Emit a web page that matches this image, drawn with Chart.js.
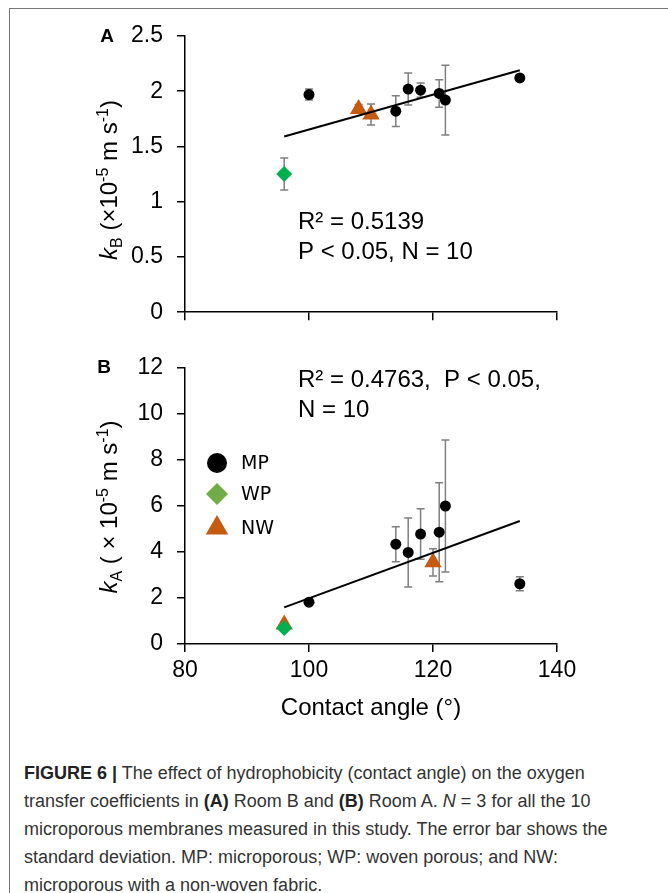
<!DOCTYPE html>
<html>
<head>
<meta charset="utf-8">
<script src="https://cdn.jsdelivr.net/npm/chart.js@4.4.0/dist/chart.umd.min.js"></script>
<style>
  body { margin: 0; background: #fff; }
  #fig { position: relative; width: 668px; height: 893px; overflow: hidden; font-family: "Liberation Sans", Arial, sans-serif; }
  #frame { position: absolute; left: 9px; top: 8px; width: 700px; height: 900px; border-left: 1px solid #777; border-top: 1px solid #777; }
  canvas { position: absolute; left: 0; }
  #chartA { top: 0; }
  #chartB { top: 340px; }
  .ytitle { position: absolute; white-space: nowrap; font-size: 24px; color: #000; line-height: 1; transform: translate(-50%, -50%) rotate(-90deg); }
  .ytitle sub, .ytitle sup { font-size: 16px; }
  .panel { position: absolute; font-weight: bold; font-size: 19px; color: #000; transform: translate(-50%, -50%); }
  #caption { position: absolute; left: 24px; top: 759px; font-size: 18px; line-height: 28px; color: #333; white-space: nowrap; }
  #caption b { color: #222; }
</style>
</head>
<body>
<div id="fig">
  <div id="frame"></div>
  <canvas id="chartA" width="668" height="340"></canvas>
  <canvas id="chartB" width="668" height="384"></canvas>
  <div class="panel" style="left:107px; top:36px;">A</div>
  <div class="panel" style="left:104px; top:367px;">B</div>
  <div class="ytitle" style="left:110px; top:180px;"><i>k</i><sub>B</sub> (×10<sup>-5</sup> m s<sup>-1</sup>)</div>
  <div class="ytitle" style="left:110px; top:507px;"><i>k</i><sub>A</sub> ( × 10<sup>-5</sup> m s<sup>-1</sup>)</div>
  <div id="caption">
    <b>FIGURE 6 |</b> The effect of hydrophobicity (contact angle) on the oxygen<br>
    transfer coefficients in <b>(A)</b> Room B and <b>(B)</b> Room A. <i>N</i> = 3 for all the 10<br>
    microporous membranes measured in this study. The error bar shows the<br>
    standard deviation. MP: microporous; WP: woven porous; and NW:<br>
    microporous with a non-woven fabric.
  </div>
</div>
<script>
// Дані панелі A (кімната B), kB ×10^-5 м/с
const mpAngleA = [100, 114, 116, 118, 121, 122, 134];
const mpValueA = [1.97, 1.82, 2.02, 2.01, 1.98, 1.92, 2.12];
const mpErrA   = [0.05, 0.14, 0.145, 0.065, 0.125, 0.315, 0.03];
const wpAngleA = [96];
const wpValueA = [1.25];
const wpErrA   = [0.145];
const nwAngleA = [108, 110];
const nwValueA = [1.84, 1.79];
const nwErrA   = [0.04, 0.095];
const trendAngleA = [96, 134];
const trendValueA = [1.59, 2.19];
const notesA = ['R² = 0.5139', 'P < 0.05, N = 10'];

// Дані панелі B (кімната A), kA ×10^-5 м/с
const mpAngleB = [100, 114, 116, 118, 121, 122, 134];
const mpValueB = [1.82, 4.34, 3.98, 4.78, 4.86, 6.0, 2.62];
const mpErrB   = [0.13, 0.76, 1.5, 1.1, 2.15, 2.87, 0.3];
const wpAngleB = [96];
const wpValueB = [0.7];
const wpErrB   = [0];
const nwAngleB = [96, 120];
const nwValueB = [0.85, 3.55];
const nwErrB   = [0.1, 0.59];
const trendAngleB = [96, 134];
const trendValueB = [1.59, 5.35];
const notesB = ['R² = 0.4763,  P < 0.05,', 'N = 10'];

// Легенда і осі
const legendLabels = ['MP', 'WP', 'NW'];
const xTicks = [80, 100, 120, 140];
const yTicksA = [0, 0.5, 1, 1.5, 2, 2.5];
const yTicksB = [0, 2, 4, 6, 8, 10, 12];

Chart.defaults.font.family = '"Liberation Sans", Arial, sans-serif';
Chart.defaults.color = '#000';

function pts(xs, ys) {
  return xs.map((x, i) => ({ x: x, y: ys[i] }));
}

// (1) Планки похибок малюємо під маркерами
const errorBars = {
  id: 'errorBars',
  beforeDatasetsDraw(chart) {
    const ctx = chart.ctx, xs = chart.scales.x, ys = chart.scales.y;
    ctx.save();
    ctx.strokeStyle = '#7f7f7f';
    ctx.lineWidth = 1.5;
    chart.data.datasets.forEach(ds => {
      if (!ds.errors) return;
      ds.data.forEach((p, i) => {
        const e = ds.errors[i];
        if (!e) return;
        const x = xs.getPixelForValue(p.x);
        const y1 = ys.getPixelForValue(p.y - e);
        const y2 = ys.getPixelForValue(p.y + e);
        ctx.beginPath();
        ctx.moveTo(x, y1); ctx.lineTo(x, y2);
        ctx.moveTo(x - 4, y1); ctx.lineTo(x + 4, y1);
        ctx.moveTo(x - 4, y2); ctx.lineTo(x + 4, y2);
        ctx.stroke();
      });
    });
    ctx.restore();
  }
};

// (2) Текст з R² всередині графіка
const notes = {
  id: 'notes',
  afterDraw(chart, args, opts) {
    if (!opts.lines) return;
    const ctx = chart.ctx, a = chart.chartArea;
    ctx.save();
    ctx.font = '24px "Liberation Sans", Arial, sans-serif';
    ctx.fillStyle = '#000';
    ctx.textBaseline = 'middle';
    opts.lines.forEach((t, i) => {
      ctx.fillText(t, a.left + opts.dx, a.top + opts.dy + i * 30);
    });
    ctx.restore();
  }
};

// (3) Власна легенда для панелі B
const markerLegend = {
  id: 'markerLegend',
  afterDraw(chart, args, opts) {
    if (!opts.items) return;
    const ctx = chart.ctx, a = chart.chartArea;
    ctx.save();
    opts.items.forEach((it, i) => {
      const x = a.left + 32, y = a.top + opts.rows[i];
      ctx.fillStyle = it.color;
      ctx.strokeStyle = it.color;
      Chart.helpers.drawPoint(ctx, { pointStyle: it.style, radius: it.radius, borderWidth: 0 }, x, y);
      ctx.fillStyle = '#000';
      ctx.font = '19px "DejaVu Sans", sans-serif';
      ctx.textBaseline = 'middle';
      ctx.fillText(legendLabels[i], a.left + 56, y + 1);
    });
    ctx.restore();
  }
};

function makeChart(id, cfg) {
  const ctx = document.getElementById(id).getContext('2d');
  return new Chart(ctx, {
    type: 'scatter',
    data: {
      datasets: [
        { data: pts(cfg.trendX, cfg.trendY), showLine: true, borderColor: '#000', borderWidth: 2, pointRadius: 0, order: 0 },
        { data: pts(cfg.mpX, cfg.mpY), errors: cfg.mpE, pointStyle: 'circle', pointRadius: 5.5, backgroundColor: '#000', borderWidth: 0, order: 3 },
        { data: pts(cfg.nwX, cfg.nwY), errors: cfg.nwE, pointStyle: 'triangle', pointRadius: 10, backgroundColor: '#c55a11', borderWidth: 0, order: 2 },
        { data: pts(cfg.wpX, cfg.wpY), errors: cfg.wpE, pointStyle: 'rectRot', pointRadius: 8, backgroundColor: '#00b050', borderWidth: 0, order: 1 }
      ]
    },
    options: {
      responsive: false,
      animation: false,
      devicePixelRatio: 1,
      events: [],
      layout: { padding: { top: cfg.padTop, right: 111, bottom: 0, left: 0 } },
      plugins: {
        legend: { display: false },
        tooltip: { enabled: false },
        notes: cfg.notes,
        markerLegend: cfg.legend || {}
      },
      scales: {
        x: {
          type: 'linear',
          min: 80, max: 140,
          afterBuildTicks: s => { s.ticks = xTicks.map(v => ({ value: v })); },
          afterFit: s => { s.height = cfg.xHeight; },
          border: { color: '#000', width: 1.5 },
          grid: { drawOnChartArea: false, drawTicks: true, tickLength: 8, color: '#000', lineWidth: 1.5 },
          ticks: { display: cfg.xLabels, font: { size: 23 }, padding: 5, maxRotation: 0 },
          title: {
            display: cfg.xLabels,
            text: 'Contact angle (°)',
            font: { size: 24 },
            padding: { top: 0, bottom: 1 }
          }
        },
        y: {
          type: 'linear',
          min: 0, max: cfg.yMax,
          afterBuildTicks: s => { s.ticks = cfg.yTicks.map(v => ({ value: v })); },
          afterFit: s => { s.width = 185; },
          border: { color: '#000', width: 1.5 },
          grid: { drawOnChartArea: false, drawTicks: true, tickLength: 8, color: '#000', lineWidth: 1.5 },
          ticks: { font: { size: 23 }, padding: 14, callback: v => String(v) }
        }
      }
    },
    plugins: [errorBars, notes, markerLegend]
  });
}

makeChart('chartA', {
  mpX: mpAngleA, mpY: mpValueA, mpE: mpErrA,
  wpX: wpAngleA, wpY: wpValueA, wpE: wpErrA,
  nwX: nwAngleA, nwY: nwValueA, nwE: nwErrA,
  trendX: trendAngleA, trendY: trendValueA,
  yMax: 2.5, yTicks: yTicksA,
  padTop: 36, xHeight: 20, xLabels: false,
  notes: { lines: notesA, dx: 113, dy: 186 }
});

makeChart('chartB', {
  mpX: mpAngleB, mpY: mpValueB, mpE: mpErrB,
  wpX: wpAngleB, wpY: wpValueB, wpE: wpErrB,
  nwX: nwAngleB, nwY: nwValueB, nwE: nwErrB,
  trendX: trendAngleB, trendY: trendValueB,
  yMax: 12, yTicks: yTicksB,
  padTop: 28, xHeight: 80, xLabels: true,
  notes: { lines: notesB, dx: 113, dy: 12 },
  legend: {
    items: [
      { style: 'circle', color: '#000', radius: 10 },
      { style: 'rectRot', color: '#70ad47', radius: 11 },
      { style: 'triangle', color: '#c55a11', radius: 13 }
    ],
    rows: [95, 126, 160]
  }
});
</script>
</body>
</html>
